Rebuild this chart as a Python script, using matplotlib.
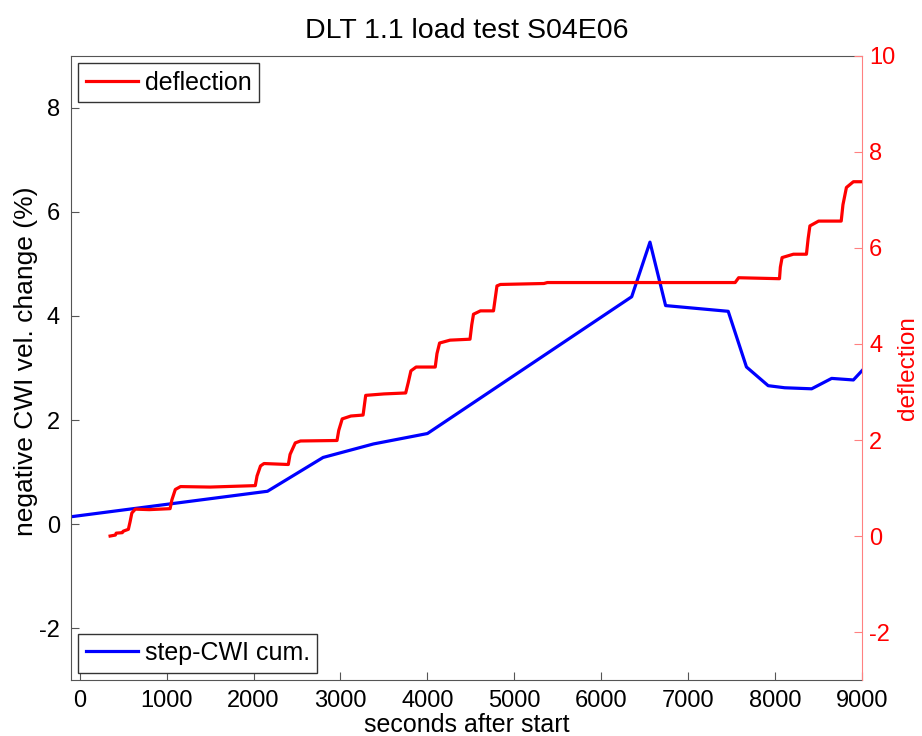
import numpy as np
from matplotlib import pyplot as plt

plt.rcParams['font.family'] = ['Liberation Sans', 'DejaVu Sans']
plt.rcParams['axes.unicode_minus'] = False

# step-CWI cumulative (left axis, %)
t_cwi = [-100, 2160, 2800, 3380, 4000, 6350, 6560, 6740, 7460, 7670, 7920, 8110, 8420, 8650, 8900, 9000]
cwi = [0.14, 0.63, 1.28, 1.54, 1.74, 4.37, 5.42, 4.20, 4.09, 3.02, 2.66, 2.62, 2.60, 2.80, 2.77, 2.95]

# deflection (right axis)
t_def = [350, 410, 420, 490, 500, 560, 580, 600, 640, 800, 1040, 1060, 1100, 1160, 1500,
         2020, 2040, 2080, 2120, 2400, 2420, 2480, 2540, 2960, 2980, 3020, 3120, 3260, 3290,
         3500, 3750, 3780, 3810, 3870, 4090, 4110, 4140, 4260, 4490, 4510, 4530, 4610, 4760,
         4780, 4800, 4840, 5340, 5380, 7540, 7560, 7580, 8050, 8060, 8080, 8210, 8360, 8380,
         8400, 8500, 8760, 8780, 8820, 8900, 9000]
defl = [0.0, 0.02, 0.06, 0.07, 0.10, 0.14, 0.30, 0.48, 0.56, 0.55, 0.57, 0.75, 0.97, 1.03, 1.02,
        1.05, 1.25, 1.46, 1.51, 1.49, 1.70, 1.94, 1.98, 1.99, 2.20, 2.44, 2.50, 2.52, 2.93,
        2.96, 2.98, 3.20, 3.44, 3.52, 3.52, 3.80, 4.02, 4.08, 4.10, 4.40, 4.62, 4.69, 4.69,
        4.95, 5.21, 5.24, 5.26, 5.28, 5.28, 5.33, 5.38, 5.36, 5.60, 5.80, 5.87, 5.87, 6.20,
        6.46, 6.56, 6.56, 6.90, 7.26, 7.38, 7.38]

fig = plt.figure(figsize=(9.22, 7.36), dpi=100)
ax1 = fig.add_axes([0.077, 0.076, 0.858, 0.848])
ax2 = ax1.twinx()

l1, = ax1.plot(t_cwi, cwi, color='#0000ff', lw=2.3)
l2, = ax2.plot(t_def, defl, color='#ff0000', lw=2.3)

ax1.set_xlim(-100, 9000)
ax1.set_ylim(-3, 9)
ax2.set_ylim(-3, 10)
ax1.set_xticks(range(0, 9001, 1000))
ax1.set_yticks([-2, 0, 2, 4, 6, 8])
ax2.set_yticks([-2, 0, 2, 4, 6, 8, 10])

gray = '#555555'
for s in ['left', 'bottom', 'top']:
    ax1.spines[s].set_color(gray)
ax1.spines['right'].set_visible(False)
for s in ['left', 'bottom', 'top']:
    ax2.spines[s].set_visible(False)
ax2.spines['right'].set_color('#ff8080')

ax1.tick_params(direction='in', length=6, color=gray, labelsize=17, pad=8)
ax1.tick_params(axis='x', pad=7)
ax2.tick_params(direction='in', length=6, color='#ff8080', labelcolor='#ff0000', labelsize=17, pad=5)

ax1.set_title('DLT 1.1 load test S04E06', fontsize=20.5, pad=13)
ax1.set_xlabel('seconds after start', fontsize=18, labelpad=1)
ax1.set_ylabel('negative CWI vel. change (%)', fontsize=19)
ax2.set_ylabel('deflection', fontsize=17.5, color='#ff0000')
ax1.yaxis.set_label_coords(-0.042, 0.511)
ax2.yaxis.set_label_coords(1.044, 0.5)

leg1 = ax1.legend([l1], ['step-CWI cum.'], loc='lower left', fontsize=18, fancybox=False,
                  edgecolor='#333333', framealpha=1, borderaxespad=0.3,
                  handlelength=2.1, handletextpad=0.25, borderpad=0.3)
leg2 = ax2.legend([l2], ['deflection'], loc='upper left', fontsize=18, fancybox=False,
                  edgecolor='#333333', framealpha=1, borderaxespad=0.3,
                  handlelength=2.1, handletextpad=0.25, borderpad=0.3)
for lg in (leg1, leg2):
    lg.get_frame().set_linewidth(1.0)

plt.savefig('out.png', dpi=100)
